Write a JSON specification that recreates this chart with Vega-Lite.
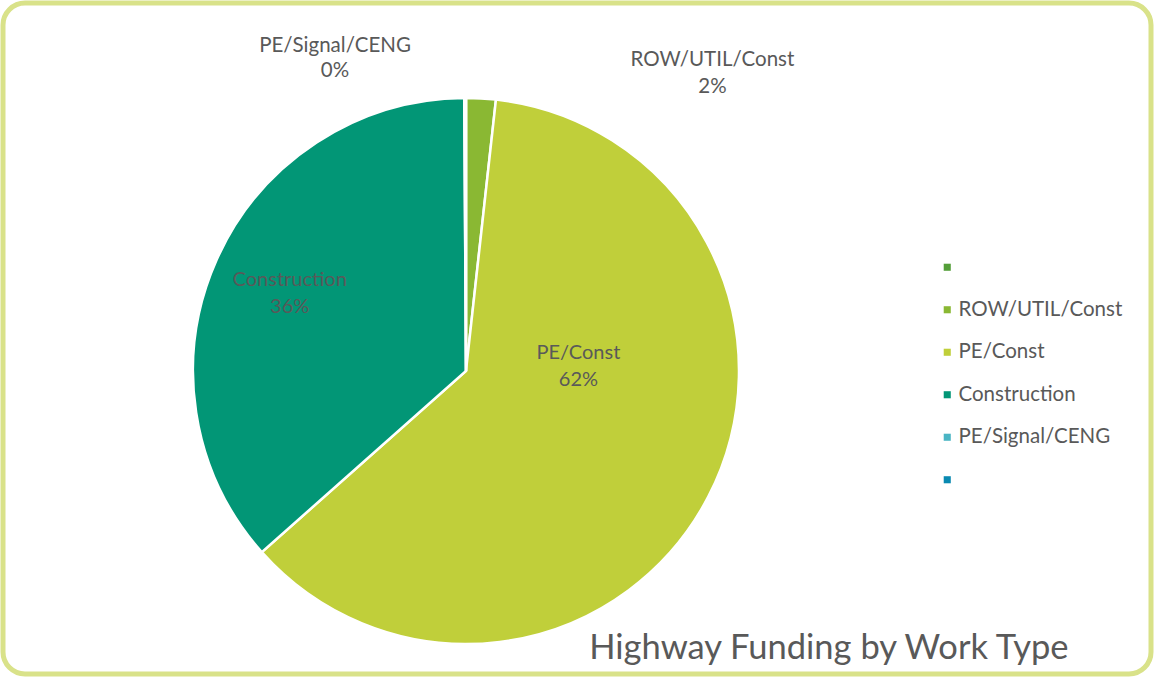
{
  "$schema": "https://vega.github.io/schema/vega-lite/v6.json",
  "width": 1148,
  "height": 671,
  "autosize": {"type": "none"},
  "padding": {"left": 3, "top": 3, "right": 3, "bottom": 3},
  "background": "white",
  "config": {
    "view": {"stroke": null},
    "font": "Lato",
    "legend": {
      "orient": "none",
      "legendX": 934,
      "legendY": 254,
      "padding": 0,
      "symbolType": "square",
      "symbolSize": 50,
      "symbolStrokeWidth": 0,
      "labelFont": "Lato",
      "labelFontSize": 20.5,
      "labelColor": "#595959",
      "labelOffset": 1,
      "labelLimit": 0,
      "rowPadding": 21.5
    }
  },
  "title": {
    "text": "Highway Funding by Work Type",
    "orient": "bottom",
    "anchor": "end",
    "offset": -45,
    "dx": -85,
    "fontSize": 34.5,
    "fontWeight": "normal",
    "font": "Lato",
    "color": "#595959"
  },
  "data": {
    "values": [
      {"cat": " ", "value": 0, "ord": 1},
      {"cat": "ROW/UTIL/Const", "value": 1.75, "ord": 2},
      {"cat": "PE/Const", "value": 61.7, "ord": 3},
      {"cat": "Construction", "value": 36.45, "ord": 4},
      {"cat": "PE/Signal/CENG", "value": 0.1, "ord": 5},
      {"cat": "  ", "value": 0, "ord": 6}
    ]
  },
  "transform": [
    {"joinaggregate": [{"op": "sum", "field": "value", "as": "total"}]},
    {"calculate": "datum.cat + '\\n' + format(datum.value / datum.total, '.0%')", "as": "label"}
  ],
  "layer": [
    {
      "data": {"values": [{"frame": "border"}]},
      "transform": [],
      "mark": {"type": "rect", "fill": null, "stroke": "#D9E289", "strokeWidth": 5, "cornerRadius": 22},
      "encoding": {}
    },
    {
      "mark": {"type": "arc", "outerRadius": 273, "stroke": "white", "strokeWidth": 2.5, "x": {"expr": "width * 0.4033"}, "y": {"expr": "height * 0.5484"}},
      "encoding": {
        "theta": {"field": "value", "type": "quantitative", "stack": true},
        "order": {"field": "ord", "type": "quantitative"},
        "color": {
          "field": "cat",
          "type": "nominal",
          "title": null,
          "scale": {
            "domain": [" ", "ROW/UTIL/Const", "PE/Const", "Construction", "PE/Signal/CENG", "  "],
            "range": ["#549E39", "#8AB833", "#C0CF3A", "#029676", "#4AB5C4", "#0989B1"]
          }
        }
      }
    },
    {
      "mark": {"type": "text", "radius": 193, "dy": -12, "fontSize": 20, "lineHeight": 27, "lineBreak": "\n", "baseline": "middle", "align": "center", "color": "#595959", "x": {"expr": "width * 0.4033"}, "y": {"expr": "height * 0.5484"}},
      "encoding": {
        "theta": {"field": "value", "type": "quantitative", "stack": true},
        "order": {"field": "ord", "type": "quantitative"},
        "text": {"condition": {"test": "datum.cat === 'Construction'", "field": "label"}, "value": ""}
      }
    },
    {
      "mark": {"type": "text", "radius": 193, "dx": -59, "dy": -107, "fontSize": 20, "lineHeight": 27, "lineBreak": "\n", "baseline": "middle", "align": "center", "color": "#595959", "x": {"expr": "width * 0.4033"}, "y": {"expr": "height * 0.5484"}},
      "encoding": {
        "theta": {"field": "value", "type": "quantitative", "stack": true},
        "order": {"field": "ord", "type": "quantitative"},
        "text": {"condition": {"test": "datum.cat === 'PE/Const'", "field": "label"}, "value": ""}
      }
    },
    {
      "mark": {"type": "text", "radius": 300, "dx": 230, "dy": -11, "fontSize": 20.5, "lineHeight": 27, "lineBreak": "\n", "baseline": "middle", "align": "center", "color": "#595959", "x": {"expr": "width * 0.4033"}, "y": {"expr": "height * 0.5484"}},
      "encoding": {
        "theta": {"field": "value", "type": "quantitative", "stack": true},
        "order": {"field": "ord", "type": "quantitative"},
        "text": {"condition": {"test": "datum.cat === 'ROW/UTIL/Const'", "field": "label"}, "value": ""}
      }
    },
    {
      "mark": {"type": "text", "radius": 315, "dx": -130, "dy": -10, "fontSize": 20.5, "lineHeight": 25, "lineBreak": "\n", "baseline": "middle", "align": "center", "color": "#595959", "x": {"expr": "width * 0.4033"}, "y": {"expr": "height * 0.5484"}},
      "encoding": {
        "theta": {"field": "value", "type": "quantitative", "stack": true},
        "order": {"field": "ord", "type": "quantitative"},
        "text": {"condition": {"test": "datum.cat === 'PE/Signal/CENG'", "field": "label"}, "value": ""}
      }
    }
  ]
}
